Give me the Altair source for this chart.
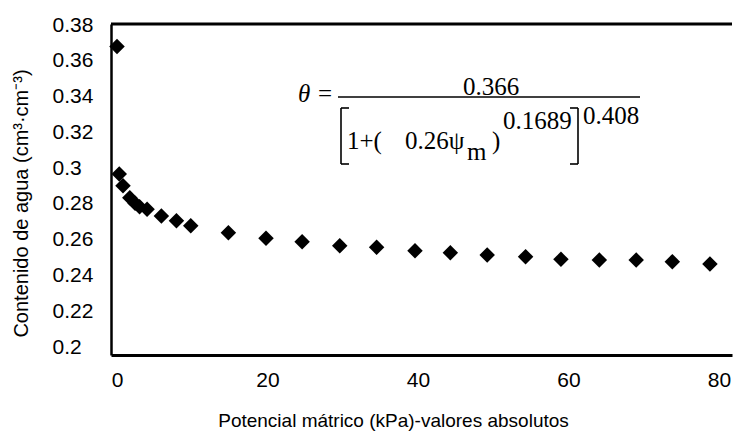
import altair as alt
import pandas as pd

# Data
psi = [0, 0.3, 0.8, 1.7, 2.4, 3.0, 4.0, 5.9, 7.9, 9.8,
       14.8, 19.8, 24.6, 29.6, 34.5, 39.6, 44.3, 49.2, 54.3, 59.0, 64.1, 69.0, 73.8, 78.8]
theta = [0.368, 0.2967, 0.2902, 0.2835, 0.2803, 0.2784, 0.2770, 0.2732, 0.2706, 0.2678,
         0.2639, 0.2608, 0.2589, 0.2566, 0.2557, 0.2538, 0.2527, 0.2514, 0.2505, 0.2490,
         0.2486, 0.2486, 0.2477, 0.2464]
x_ticks = [0, 20, 40, 60, 80]
y_ticks = [0.2, 0.22, 0.24, 0.26, 0.28, 0.3, 0.32, 0.34, 0.36, 0.38]
x_title = "Potencial mátrico (kPa)-valores absolutos"
y_title = "Contenido de agua (cm³·cm⁻³)"
eq_theta = "θ"
eq_equals = "="
eq_num = "0.366"
eq_den1 = "1+("
eq_den2 = "0.26ψ"
eq_sub = "m"
eq_close = ")"
eq_exp1 = "0.1689"
eq_exp2 = "0.408"

W, H = 621, 331
PL, PT = 111, 24

df = pd.DataFrame({"psi": psi, "theta": theta})

SANS = "Liberation Sans"
SERIF = "Liberation Serif"

points = alt.Chart(df).mark_point(
    shape="diamond", filled=True, color="black", opacity=1, size=240
).encode(
    x=alt.X("psi:Q",
            scale=alt.Scale(domain=[-0.797, 81.73], nice=False, zero=False),
            axis=alt.Axis(values=x_ticks, ticks=False, tickSize=0, grid=False,
                          domainColor="black", domainWidth=3,
                          labelFont=SANS, labelFontSize=21, labelColor="black",
                          labelPadding=14, labelFlush=False,
                          title=x_title, titleFont=SANS, titleFontSize=19,
                          titleFontWeight="normal", titleColor="black",
                          titleX=282, titleY=65, titleBaseline="middle")),
    y=alt.Y("theta:Q",
            scale=alt.Scale(domain=[0.19553, 0.38056], nice=False, zero=False),
            axis=alt.Axis(values=y_ticks, format="~g", ticks=False, tickSize=0, grid=False,
                          domainColor="black", domainWidth=2.5,
                          labelFont=SANS, labelFontSize=21, labelColor="black",
                          labelAlign="left", labelBaseline="middle", labelPadding=59,
                          labelFlush=False,
                          title=y_title, titleFont=SANS, titleFontSize=20,
                          titleFontWeight="normal", titleColor="black",
                          titleX=21 - PL, titleY=203 - PT, titleBaseline="middle")),
)

one = pd.DataFrame({"a": [0]})

def rule(x1, y1, x2, y2, w=1.6):
    return alt.Chart(one).mark_rule(color="black", strokeWidth=w).encode(
        x=alt.value(x1 - PL), x2=alt.value(x2 - PL),
        y=alt.value(y1 - PT), y2=alt.value(y2 - PT))

def txt(s, x, y, size=24, italic=False, align="left"):
    return alt.Chart(one).mark_text(
        text=s, font=SERIF, fontSize=size, fontStyle="italic" if italic else "normal",
        align=align, baseline="alphabetic", color="black"
    ).encode(x=alt.value(x - PL), y=alt.value(y - PT))

top_border = alt.Chart(one).mark_rule(color="black", strokeWidth=3).encode(
    x=alt.value(0), x2=alt.value(W), y=alt.value(0))

layers = [
    top_border,
    points,
    txt(eq_theta, 298, 102, size=25, italic=True),
    txt(eq_equals, 318, 102, size=25),
    txt(eq_num, 491, 95, size=25, align="center"),
    rule(338, 97, 640, 97, 1.7),
    # left bracket
    rule(341, 108, 341, 164), rule(341, 108, 349, 108), rule(341, 164, 349, 164),
    # right bracket
    rule(578, 108, 578, 164), rule(570, 108, 578, 108), rule(570, 164, 578, 164),
    txt(eq_den1, 347, 149, size=25),
    txt(eq_den2, 405, 149, size=25),
    txt(eq_sub, 467, 160, size=25),
    txt(eq_close, 492, 149, size=25),
    txt(eq_exp1, 503, 129, size=25),
    txt(eq_exp2, 583, 124, size=25),
]

chart = alt.layer(*layers).properties(
    width=W, height=H,
    autosize=alt.AutoSizeParams(type="none"),
    padding={"left": PL, "top": PT, "right": 1, "bottom": 85},
    background="white",
).configure_view(stroke=None)

chart.save("out.html", embed_options={"renderer": "svg", "actions": False})
